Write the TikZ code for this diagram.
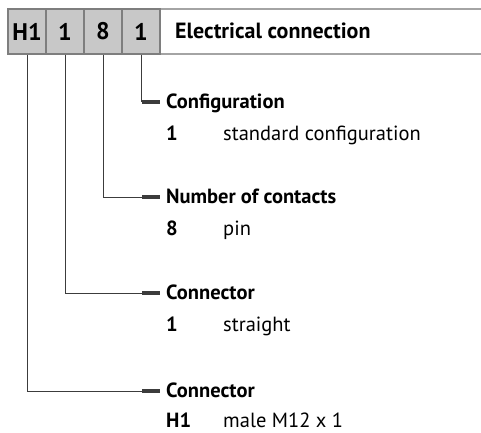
\documentclass[tikz,border=0pt]{standalone}
\usepackage{fontspec}
\setsansfont{PT Sans}
\definecolor{boxgray}{HTML}{C8C8C8}
\definecolor{boxline}{HTML}{7E7E7E}
\definecolor{bandline}{HTML}{A4A4A4}
\definecolor{legline}{HTML}{3C3C3C}
\begin{document}
\begin{tikzpicture}[x=1pt, y=-1pt, font=\sffamily, line join=miter,
	codebox/.style={draw=boxline, line width=1.2pt, fill=boxgray, minimum width=38pt, minimum height=45pt, inner sep=0pt, font=\sffamily\bfseries\fontsize{24}{26}\selectfont},
	title/.style={anchor=base west, inner sep=0pt, font=\sffamily\bfseries\fontsize{22}{24}\selectfont},
	head/.style={anchor=base west, inner sep=0pt, font=\sffamily\bfseries\fontsize{20.5}{23}\selectfont},
	key/.style={anchor=base west, inner sep=0pt, font=\sffamily\bfseries\fontsize{20.5}{23}\selectfont},
	value/.style={anchor=base west, inner sep=0pt, font=\sffamily\fontsize{20.5}{23}\selectfont},
	leg/.style={draw=legline, line width=1pt},
	tab/.style={draw=legline, line width=4pt, line cap=butt}]
	\useasboundingbox (0,0) rectangle (481,432);

	% Code band
	\draw[bandline, line width=1.5pt] (8,9) -- (481,9);
	\draw[bandline, line width=1.5pt] (8,54) -- (481,54);
	\node[codebox] (c1) at (27,31.5) {H1};
	\node[codebox] (c2) at (65,31.5) {1};
	\node[codebox] (c3) at (103,31.5) {8};
	\node[codebox] (c4) at (141,31.5) {1};
	\node[title] (title) at (175,38.5) {Electrical connection};

	% Configuration
	\coordinate (k4) at (141,102);
	\coordinate (t4) at (160,102);
	\node[head] (conf) at (166,108) {Configuration};
	\node[key] (conf-k) at (166,140) {1};
	\node[value] (conf-v) at (223,140) {standard configuration};
	\draw[leg] (c4.south) -- (k4);
	\draw[tab] (k4) ++(1,0) -- (t4);

	% Number of contacts
	\coordinate (k3) at (103,197);
	\coordinate (t3) at (160,197);
	\node[head] (pins) at (166,203) {Number of contacts};
	\node[key] (pins-k) at (166,235) {8};
	\node[value] (pins-v) at (223,235) {pin};
	\draw[leg] (c3.south) |- (t3);
	\draw[tab] (142,197) -- (t3);

	% Connector
	\coordinate (k2) at (65,293);
	\coordinate (t2) at (160,293);
	\node[head] (conn) at (166,299) {Connector};
	\node[key] (conn-k) at (166,331) {1};
	\node[value] (conn-v) at (223,331) {straight};
	\draw[leg] (c2.south) |- (t2);
	\draw[tab] (142,293) -- (t2);

	% Connector H1
	\coordinate (k1) at (27,391);
	\coordinate (t1) at (160,391);
	\node[head] (male) at (166,397) {Connector};
	\node[key] (male-k) at (166,427) {H1};
	\node[value] (male-v) at (223,427) {male M12 x 1};
	\draw[leg] (c1.south) |- (t1);
	\draw[tab] (142,391) -- (t1);
\end{tikzpicture}
\end{document}
